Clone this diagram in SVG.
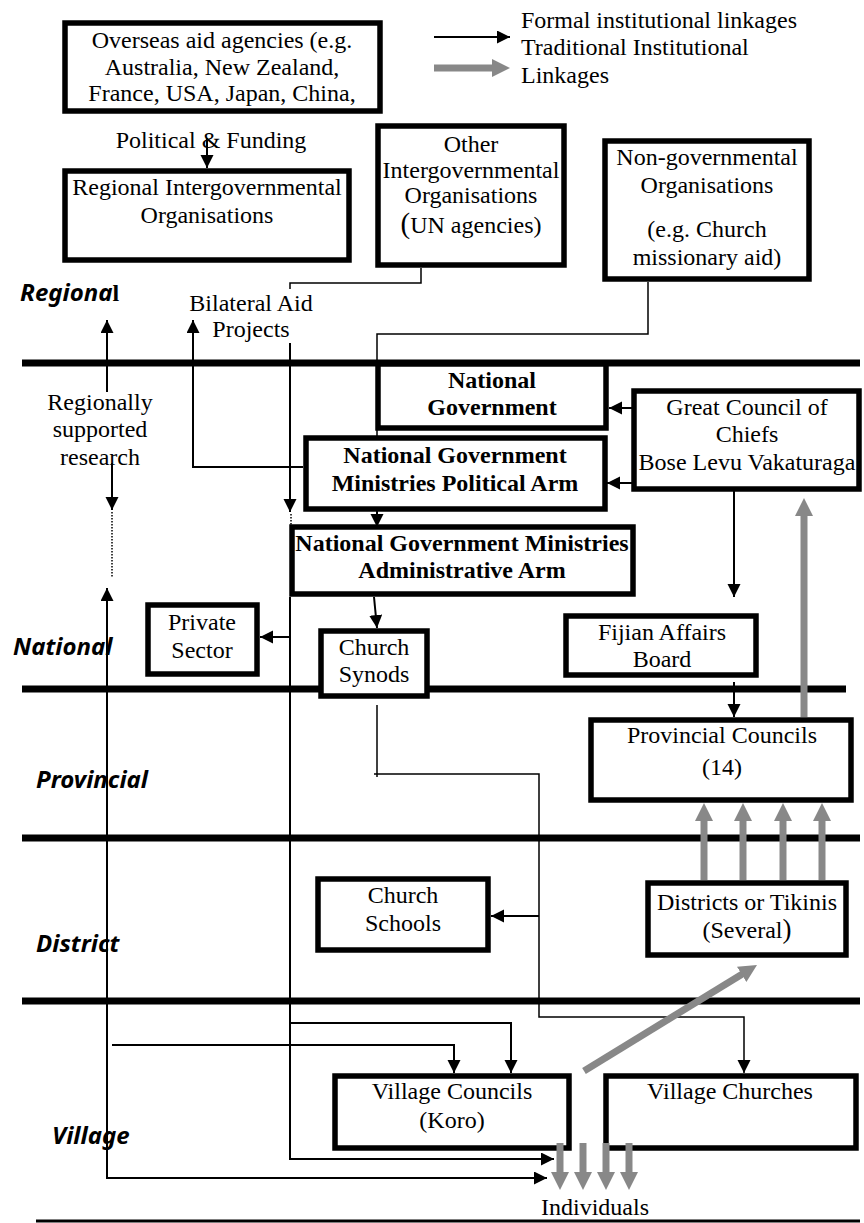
<svg xmlns="http://www.w3.org/2000/svg" width="864" height="1223" viewBox="0 0 864 1223">
  <style>
    .box { fill: #fff; stroke: #000; stroke-width: 5.5; }
    .t { font-family: "Liberation Serif", "Times New Roman", serif; font-size: 24px; fill: #000; text-anchor: middle; }
    .b { font-weight: bold; }
    .lvl { font-family: "Noto Sans", "Open Sans", sans-serif; font-size: 24px; font-weight: bold; font-style: italic; fill: #000; }
    .tier { stroke: #000; stroke-width: 7; }
    .ln { fill: none; stroke: #000; stroke-width: 2; }
    .thin { fill: none; stroke: #000; stroke-width: 1.5; }
    .arr { fill: none; stroke: #000; stroke-width: 2; marker-end: url(#ah); }
    .trad { fill: none; stroke: #888; stroke-width: 7; marker-end: url(#gh); }
    .dot { fill: none; stroke: #000; stroke-width: 1.5; stroke-dasharray: 1.5 1.5; }
  </style>
  <defs>
    <marker id="ah" markerUnits="userSpaceOnUse" markerWidth="14" markerHeight="14" refX="13" refY="6.5" orient="auto">
      <path d="M0,0 L13,6.5 L0,13 z" fill="#000"/>
    </marker>
    <marker id="gh" markerUnits="userSpaceOnUse" markerWidth="19" markerHeight="19" refX="8" refY="9" orient="auto">
      <path d="M0,0 L18,9 L0,18 z" fill="#888"/>
    </marker>
  </defs>
  <rect width="864" height="1223" fill="#fff"/>

  <!-- tier separators -->
  <g id="tiers">
    <line class="tier" x1="22" y1="363" x2="860" y2="363"/>
    <line class="tier" x1="22" y1="689" x2="846" y2="689"/>
    <line class="tier" x1="22" y1="838" x2="860" y2="838"/>
    <line class="tier" x1="22" y1="1001" x2="860" y2="1001"/>
    <line stroke="#000" stroke-width="3" x1="36" y1="1221" x2="860" y2="1221"/>
  </g>

  <!-- tier labels -->
  <g id="levels">
    <text class="lvl" x="20" y="301">Regiona<tspan font-family="Liberation Serif, serif" font-style="normal">l</tspan></text>
    <text class="lvl" x="13" y="655">National</text>
    <text class="lvl" x="36" y="788">Provincial</text>
    <text class="lvl" x="36" y="952">District</text>
    <text class="lvl" x="52" y="1144">Village</text>
  </g>

  <!-- legend -->
  <g id="legend">
    <line class="arr" x1="434" y1="37" x2="510" y2="37"/>
    <line class="trad" x1="434" y1="68" x2="500" y2="68"/>
    <text class="t" style="text-anchor:start" x="521" y="28">Formal institutional linkages</text>
    <text class="t" style="text-anchor:start" x="521" y="55">Traditional Institutional</text>
    <text class="t" style="text-anchor:start" x="521" y="83">Linkages</text>
  </g>

  <!-- connectors -->
  <g id="connectors">
    <line class="thin" x1="172" y1="38" x2="172" y2="56"/>
    <line class="arr" x1="207" y1="138" x2="207" y2="168"/>
    <polyline class="thin" points="421,268 421,283 290,283 290,289"/>
    <line class="arr" x1="290" y1="343" x2="290" y2="512"/>
    <line class="dot" x1="291" y1="514" x2="291" y2="526"/>
    <polyline class="thin" points="648,282 648,334 377,334 377,438"/>
    <polyline class="arr" points="303,467 193,467 193,320"/>
    <line class="arr" x1="107" y1="392" x2="107" y2="320"/>
    <line class="arr" x1="112" y1="463" x2="112" y2="510"/>
    <line class="dot" x1="112" y1="512" x2="112" y2="578"/>
    <line class="arr" x1="107" y1="1178" x2="107" y2="588"/>
    <line class="arr" x1="106" y1="1178" x2="547" y2="1178"/>
    <line class="arr" x1="659" y1="408" x2="609" y2="408"/>
    <line class="arr" x1="634" y1="483" x2="607" y2="483"/>
    <line class="arr" x1="734" y1="477" x2="734" y2="597"/>
    <line class="arr" x1="377" y1="509" x2="377" y2="527"/>
    <line class="arr" x1="374" y1="597" x2="377" y2="628"/>
    <polyline class="ln" points="290,597 290,1159"/>
    <line class="arr" x1="289" y1="1159" x2="554" y2="1159"/>
    <line class="arr" x1="290" y1="637" x2="260" y2="637"/>
    <polyline class="arr" points="291,1023 511,1023 511,1073"/>
    <polyline class="arr" points="112,1045 454,1045 454,1073"/>
    <polyline class="thin" points="377,705 377,777"/>
    <polyline class="arr" points="374,774 539,774 539,1017 744,1017 744,1073" style="stroke-width:1.5"/>
    <line class="arr" x1="539" y1="916" x2="491" y2="916"/>
    <line class="arr" x1="734" y1="682" x2="734" y2="717"/>
    <line class="trad" x1="804" y1="717" x2="804" y2="508"/>
    <line class="trad" x1="704" y1="880" x2="704" y2="813"/>
    <line class="trad" x1="743" y1="880" x2="743" y2="813"/>
    <line class="trad" x1="783" y1="880" x2="783" y2="813"/>
    <line class="trad" x1="822" y1="880" x2="822" y2="813"/>
    <line class="trad" x1="584" y1="1071" x2="748.5" y2="970.2"/>
  </g>

  <!-- nodes -->
  <g id="overseas-aid">
    <rect class="box" x="65" y="23" width="315" height="88"/>
    <text class="t" x="222" y="48">Overseas aid agencies (e.g.</text>
    <text class="t" x="222" y="75">Australia, New Zealand,</text>
    <text class="t" x="222" y="101">France, USA, Japan, China,</text>
  </g>
  <g id="political-funding">
    <text class="t" x="211" y="148">Political &amp; Funding</text>
  </g>
  <g id="regional-igo">
    <rect class="box" x="65" y="171" width="284" height="89"/>
    <text class="t" x="207" y="195">Regional Intergovernmental</text>
    <text class="t" x="207" y="223">Organisations</text>
  </g>
  <g id="other-igo">
    <rect class="box" x="378" y="126" width="186" height="139"/>
    <text class="t" x="471" y="152">Other</text>
    <text class="t" x="471" y="178">Intergovernmental</text>
    <text class="t" x="471" y="203">Organisations</text>
    <text class="t" x="471" y="233"><tspan font-size="29">(</tspan>UN agencies)</text>
  </g>
  <g id="ngo">
    <rect class="box" x="605" y="141" width="204" height="138"/>
    <text class="t" x="707" y="165">Non-governmental</text>
    <text class="t" x="707" y="193">Organisations</text>
    <text class="t" x="707" y="237">(e.g. Church</text>
    <text class="t" x="707" y="265">missionary aid)</text>
  </g>
  <g id="bilateral-aid">
    <text class="t" x="251" y="311">Bilateral Aid</text>
    <text class="t" x="251" y="337">Projects</text>
  </g>
  <g id="regional-research">
    <text class="t" x="100" y="410">Regionally</text>
    <text class="t" x="100" y="437">supported</text>
    <text class="t" x="100" y="465">research</text>
  </g>
  <g id="national-government">
    <rect class="box" x="378" y="364" width="228" height="64"/>
    <text class="t b" x="492" y="388">National</text>
    <text class="t b" x="492" y="415">Government</text>
  </g>
  <g id="great-council">
    <rect class="box" x="634" y="391" width="225" height="98"/>
    <text class="t" x="747" y="415">Great Council of</text>
    <text class="t" x="747" y="442">Chiefs</text>
    <text class="t" x="747" y="470">Bose Levu Vakaturaga</text>
  </g>
  <g id="ministries-political">
    <rect class="box" x="306" y="438" width="299" height="71"/>
    <text class="t b" x="455" y="463">National Government</text>
    <text class="t b" x="455" y="491">Ministries Political Arm</text>
  </g>
  <g id="ministries-admin">
    <rect class="box" x="292" y="527" width="341" height="67"/>
    <text class="t b" x="462" y="551">National Government Ministries</text>
    <text class="t b" x="462" y="578">Administrative Arm</text>
  </g>
  <g id="private-sector">
    <rect class="box" x="148" y="605" width="109" height="69"/>
    <text class="t" x="202" y="630">Private</text>
    <text class="t" x="202" y="658">Sector</text>
  </g>
  <g id="church-synods">
    <rect class="box" x="321" y="631" width="106" height="65"/>
    <text class="t" x="374" y="655">Church</text>
    <text class="t" x="374" y="682">Synods</text>
  </g>
  <g id="fijian-affairs">
    <rect class="box" x="566" y="616" width="190" height="59"/>
    <text class="t" x="662" y="640">Fijian Affairs</text>
    <text class="t" x="662" y="667">Board</text>
  </g>
  <g id="provincial-councils">
    <rect class="box" x="591" y="720" width="260" height="80"/>
    <text class="t" x="722" y="743">Provincial Councils</text>
    <text class="t" x="722" y="775">(14)</text>
  </g>
  <g id="church-schools">
    <rect class="box" x="318" y="879" width="170" height="71"/>
    <text class="t" x="403" y="903">Church</text>
    <text class="t" x="403" y="931">Schools</text>
  </g>
  <g id="districts">
    <rect class="box" x="648" y="883" width="198" height="72"/>
    <text class="t" x="747" y="910">Districts or Tikinis</text>
    <text class="t" x="747" y="938">(Several<tspan font-size="27">)</tspan></text>
  </g>
  <g id="village-councils">
    <rect class="box" x="335" y="1076" width="234" height="72"/>
    <text class="t" x="452" y="1099">Village Councils</text>
    <text class="t" x="452" y="1128">(Koro)</text>
  </g>
  <g id="village-churches">
    <rect class="box" x="606" y="1076" width="250" height="72"/>
    <text class="t" x="730" y="1099">Village Churches</text>
  </g>
  <g id="individuals">
    <line class="trad" x1="560" y1="1143" x2="560" y2="1180"/>
    <line class="trad" x1="583" y1="1143" x2="583" y2="1180"/>
    <line class="trad" x1="606" y1="1143" x2="606" y2="1180"/>
    <line class="trad" x1="629" y1="1143" x2="629" y2="1180"/>
    <text class="t" x="595" y="1215">Individuals</text>
  </g>
</svg>
